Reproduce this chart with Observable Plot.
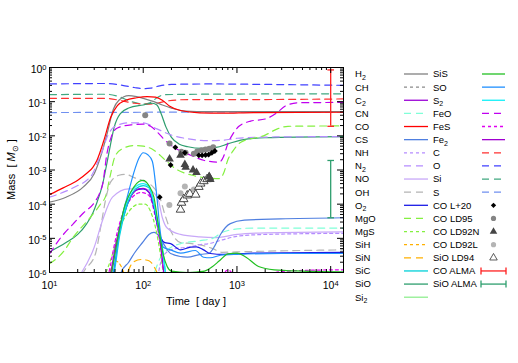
<!DOCTYPE html>
<html><head><meta charset="utf-8">
<script src="https://cdn.jsdelivr.net/npm/d3@7"></script>
<script src="https://cdn.jsdelivr.net/npm/@observablehq/plot@0.6"></script>
<style>
body{margin:0;background:#fff;}
svg{font-family:"Liberation Sans",Arial,Helvetica,sans-serif;}
</style></head><body><div id="chart"></div>
<script>
// ---------- data: [time (day), mass (Msun)] ----------
const xDomain = [10, 13700];
const yDomain = [1e-6, 1];
const xMajor = [10, 100, 1000, 10000];
const yMajor = [1e-6, 1e-5, 1e-4, 1e-3, 1e-2, 1e-1, 1];

const H2 = [[10,1.15e-4],[15,1.6e-4],[23,3.2e-4],[30,7.8e-4],[35,2.4e-3],[41,0.011],[48,0.06],[55,0.11],[70,0.15],[85,0.14],[100,0.125],[130,0.1],[160,0.08],[200,0.065],[280,0.053],[500,0.051],[13700,0.051]];
const CO = [[10,1.9e-4],[14,3e-4],[20,5e-4],[25,8e-4],[29,1.2e-3],[32,1.9e-3],[38,7.3e-3],[45,0.035],[53,0.077],[65,0.11],[85,0.13],[110,0.14],[135,0.135],[160,0.11],[190,0.075],[250,0.055],[400,0.047],[700,0.046],[1500,0.048],[13700,0.049]];
const SiO = [[10,4e-6],[15,7.5e-6],[20,1.3e-5],[25,2.7e-5],[29,5.5e-5],[32,1.1e-4],[37,4e-4],[41,1.6e-3],[45,6e-3],[49,0.018],[57,0.045],[70,0.065],[100,0.08],[125,0.09],[140,0.08],[155,0.045],[175,0.018],[200,0.009],[240,0.0058],[300,0.0048],[420,0.0043],[600,0.0046],[800,0.0058],[1100,0.0075],[2000,0.0088],[13700,0.0095]];
const N2 = [[10,1.6e-4],[15,2.4e-4],[20,3.5e-4],[25,5e-4],[29,8e-4],[32,1.5e-3],[37,4e-3],[41,9e-3],[50,0.019],[70,0.024],[100,0.024],[140,0.016],[200,0.0105],[300,0.0082],[500,0.0072],[700,0.0074],[1000,0.0085],[2000,0.0092],[13700,0.0095]];
const FeO = [[10,3.5e-6],[13,1e-5],[18,2.7e-5],[23,5.5e-5],[30,1.1e-4],[34,2e-4],[37,4e-4],[41,3e-3],[46,0.01],[53,0.017],[75,0.021],[100,0.022],[120,0.019],[141,0.013],[170,0.0075],[211,0.0047],[320,0.0027],[450,0.0019],[650,0.0017],[720,0.0025],[800,0.006],[900,0.011],[1050,0.019],[1400,0.027],[2000,0.031],[2600,0.045],[3300,0.075],[4500,0.093],[13700,0.095]];
const MgO = [[10,1.8e-6],[14,4e-6],[18,1.1e-5],[27,4e-5],[35,1e-4],[40,1.8e-4],[44,6e-4],[50,2.5e-3],[60,4.2e-3],[80,5.2e-3],[100,5e-3],[130,3.8e-3],[170,2e-3],[220,1.1e-3],[350,6.8e-4],[500,5.8e-4],[650,5.6e-4],[720,8e-4],[800,2e-3],[900,3.5e-3],[1100,6.5e-3],[2000,0.0105],[2700,0.016],[3500,0.019],[13700,0.0195]];
const OH = [[20,4e-7],[23,1e-6],[31,3.6e-6],[35,2e-5],[40,1.5e-4],[45,4.5e-4],[55,7e-4],[65,7.5e-4],[80,6e-4],[100,4.8e-4],[130,3e-4],[150,1.6e-4],[170,5e-5],[200,1.5e-5],[250,7.5e-6],[330,7e-6],[450,6e-6],[550,5e-6],[700,3.9e-6],[1000,4e-6],[2000,4.2e-6],[13700,4.6e-6]];
const NO = [[18,5e-7],[22,1e-6],[30,5.5e-6],[37,3.5e-5],[47,1.6e-4],[70,2.8e-4],[100,2.8e-4],[120,2.5e-4],[145,1.3e-4],[160,4e-5],[180,2e-5],[250,1.3e-5],[400,1.1e-5],[600,1.05e-5],[1000,1.3e-5],[2000,1.45e-5],[13700,1.55e-5]];
const SO = [[45,5e-7],[48,1e-6],[55,1.3e-5],[62,7e-5],[67,1.5e-4],[79,8e-4],[90,2.2e-3],[100,3.2e-3],[112,2.8e-3],[125,1.8e-3],[141,1.3e-4],[150,2.1e-5],[164,5.5e-6],[196,4.6e-6],[250,3.7e-6],[360,4.4e-6],[440,2.8e-6],[520,2.7e-6],[667,3.2e-6],[1000,3.4e-6],[3000,3.6e-6],[13700,3.6e-6]];
const O2 = [[44,5e-7],[46,1e-6],[50,4e-6],[57,2.1e-5],[65,7e-5],[73,1.6e-4],[85,2.6e-4],[100,2.8e-4],[115,2.2e-4],[130,8e-5],[141,2.7e-5],[155,1e-5],[170,7.5e-6],[196,7e-6],[250,4.6e-6],[320,5.5e-6],[370,5.6e-6],[440,4.6e-6],[520,3.6e-6],[720,3.4e-6],[1500,3.7e-6],[13700,3.9e-6]];
const CS = [[55,5e-7],[58,1e-6],[70,2e-6],[80,3.6e-6],[100,8e-6],[115,1.3e-5],[130,1.5e-5],[150,1.1e-5],[170,6e-6],[196,3.6e-6],[295,2.8e-6],[410,3.4e-6],[500,3.6e-6],[580,6e-6],[667,1.3e-5],[850,2.7e-5],[1200,3.4e-5],[2900,3.7e-5],[13700,4e-5]];
const C2 = [[42,5e-7],[45,1e-6],[50,5e-6],[57,2.5e-5],[65,8e-5],[75,1.8e-4],[90,2.8e-4],[100,2.9e-4],[115,2.3e-4],[130,9e-5],[145,2e-5],[155,5e-6],[163,1.5e-6],[170,5e-7]];
const S2 = [[45,5e-7],[48,1e-6],[55,1.2e-5],[65,9e-5],[80,3e-4],[100,4e-4],[115,3.3e-4],[135,6.6e-5],[150,1.5e-5],[160,5.5e-6],[173,1e-6],[180,4e-7]];
const SiC = [[46,5e-7],[49,1e-6],[56,1.2e-5],[66,8e-5],[82,2.7e-4],[100,3.5e-4],[115,3e-4],[135,6e-5],[150,1.3e-5],[160,5e-6],[172,1e-6],[180,4e-7]];
const SiS = [[44,5e-7],[46,1e-6],[55,1.5e-5],[62,7e-5],[79,3.1e-4],[90,4.6e-4],[100,5e-4],[115,3.5e-4],[130,1.6e-4],[146,2.1e-5],[160,4.4e-6],[180,1.5e-6],[200,1.1e-6],[300,1e-6],[450,1.1e-6],[550,1.5e-6],[650,2.2e-6],[800,3.5e-6],[1000,3.7e-6],[1250,2.8e-6],[1700,1.5e-6],[2500,1.2e-6],[5000,1.1e-6],[13700,1.05e-6]];
const MgS = [[35,5e-7],[40,1e-6],[50,6e-6],[57,2.1e-5],[70,6e-5],[90,1e-4],[105,1e-4],[120,6e-5],[135,2.1e-5],[152,3.6e-6],[163,1e-6],[170,3e-7]];
const FeS = [[40,5e-7],[43,1e-6],[50,8e-6],[60,5e-5],[75,1.5e-4],[95,2.2e-4],[115,1.8e-4],[135,4e-5],[150,8e-6],[160,2e-6],[166,8e-7],[175,3e-7],[600,3e-7],[700,7e-7],[780,1.15e-6],[850,1.1e-6],[950,6e-7],[1500,5e-7],[2300,9e-7],[2800,1.05e-6],[5000,1.15e-6],[13700,1.2e-6]];
const NH = [[140,5e-7],[150,1.5e-6],[170,3.5e-6],[220,5e-6],[300,5.5e-6],[400,6.5e-6],[500,7e-6],[700,9e-6],[1000,1.15e-5],[2000,1.3e-5],[13700,1.4e-5]];
const CN = [[120,5e-7],[135,1.2e-6],[150,2.5e-6],[180,4.5e-6],[250,7e-6],[400,8.5e-6],[550,1e-5],[700,1.5e-5],[900,1.8e-5],[1500,2e-5],[13700,2e-5]];
const SiH = [[40,5e-7],[44,1e-6],[50,2.2e-6],[56,1.8e-6],[62,1e-6],[68,5e-7]];
const SiN = [[62,5e-7],[68,1e-6],[78,2e-6],[95,2.4e-6],[115,2.2e-6],[130,1.5e-6],[140,1e-6],[150,5e-7]];
const Cat = [[10,0.125],[40,0.125],[60,0.105],[80,0.09],[110,0.085],[140,0.09],[180,0.105],[300,0.115],[1000,0.115],[13700,0.12]];
const Oat = [[10,0.33],[40,0.34],[60,0.3],[80,0.26],[100,0.24],[120,0.25],[150,0.29],[200,0.32],[500,0.33],[2000,0.32],[13700,0.30]];
const Siat = [[10,0.16],[40,0.165],[55,0.14],[75,0.1],[100,0.085],[120,0.095],[140,0.13],[170,0.16],[400,0.165],[13700,0.17]];
const Sat = [[10,0.048],[100,0.049],[1000,0.05],[13700,0.05]];

// observations
const COL20 = [[150,1.6e-4],[196,1.4e-3],[220,4.6e-3],[278,3.2e-3],[392,2.7e-3],[425,2.7e-3],[462,2.75e-3],[498,2.8e-3],[540,3.2e-3],[581,3.6e-3]];
const COLD95 = [[105,0.04],[191,6e-3],[255,3.4e-3],[283,3.2e-3],[347,3.0e-3],[377,3.5e-3],[419,3.8e-3],[462,4e-3],[506,4.2e-3],[558,4.6e-3]];
const COLD92N = [[191,2.1e-3],[250,2.7e-3],[278,1.45e-3],[284,1.2e-3],[340,1.0e-3],[370,8.5e-4],[506,6.5e-4],[520,5.3e-4]];
const COLD92L = [[190,9.4e-5],[250,2.1e-4],[278,3.3e-4],[347,2.7e-4]];
const SiOLD94 = [[250,6.9e-5],[256,1.1e-4],[270,1.4e-4],[295,1.8e-4],[314,2.0e-4],[363,1.9e-4],[392,3.2e-4],[410,4e-4],[443,4.7e-4],[480,5.4e-4],[506,6e-4]];
const COALMA = [[10000, 0.019, 0.85]];
const SiOALMA = [[10000, 4e-5, 1.9e-3]];

// legend labels
const legendCol1 = ["H_2","CH","C_2","CN","CO","CS","NH","N_2","NO","OH","O_2","MgO","MgS","SiH","SiN","SiC","SiO","Si_2"];
const legendCol2 = ["SiS","SO","S_2","FeO","FeS","Fe_2","C","O","Si","S","CO L+20","CO LD95","CO LD92N","CO LD92L","SiO LD94","CO ALMA","SiO ALMA"];

// ---------- styles ----------
const DASH = "7,5", DOT = "3,3";
const style = {
  "H_2":["#808080",null], "CH":["#8a8a8a",DOT], "C_2":["#9a00d6",null], "CN":["#80ffd8",DASH],
  "CO":["#ff0000",null], "CS":["#4f7fe0",null], "NH":["#b58cff",DOT], "N_2":["#b58cff",DASH],
  "NO":["#c8a8f8",null], "OH":["#b4b4b4",DASH], "O_2":["#1a1ae6",null], "MgO":["#84f040",DASH],
  "MgS":["#84f040",DOT], "SiH":["#ffb000",DOT], "SiN":["#ffb000",DASH], "SiC":["#00d0d8",null],
  "SiO":["#2e9e6e",null], "Si_2":["#90ee90",null],
  "SiS":["#22c022",null], "SO":["#2090ff",null], "S_2":["#10f0f8",null], "FeO":["#c000f0",DASH],
  "FeS":["#e000f0",DOT], "Fe_2":["#a000d0",null], "C":["#ff3030",DASH], "O":["#4040ff",DASH],
  "Si":["#40a880",DASH], "S":["#7090f0",DASH]
};
const curveData = [["Si","Siat",Siat],["C","Cat",Cat],["O","Oat",Oat],["S","Sat",Sat],
  ["H_2",0,H2],["SiO",0,SiO],["N_2",0,N2],["FeO",0,FeO],["MgO",0,MgO],["CO",0,CO],
  ["OH",0,OH],["NO",0,NO],["NH",0,NH],["CN",0,CN],["CS",0,CS],["SiH",0,SiH],["SiN",0,SiN],
  ["MgS",0,MgS],["FeS",0,FeS],["O_2",0,O2],["C_2",0,C2],["SiC",0,SiC],["S_2",0,S2],["SO",0,SO],["SiS",0,SiS]];

const toRows = arr => arr.map(([t,m]) => ({t, m}));
const lines = curveData.map(([key,,arr]) => Plot.line(toRows(arr), {
  x:"t", y:"m", stroke: style[key][0], strokeWidth: 1.2,
  strokeDasharray: style[key][1] || undefined, curve: "monotone-x", clip: true
}));

const capSymbol = { draw(ctx, size) { const r = Math.sqrt(size/Math.PI); ctx.moveTo(-r,0); ctx.lineTo(r,0); } };
function errorBar(arr, color) {
  const rows = arr.map(([t,lo,hi]) => ({t, lo, hi}));
  const caps = rows.flatMap(d => [{t:d.t, m:d.lo}, {t:d.t, m:d.hi}]);
  return [
    Plot.ruleX(rows, {x:"t", y1:"lo", y2:"hi", stroke: color, strokeWidth: 1.3}),
    Plot.dot(caps, {x:"t", y:"m", symbol: capSymbol, r: 3.3, stroke: color, strokeWidth: 1.3})
  ];
}

// minor ticks
const xMinor = [], yMinor = [];
for (const d of [10,100,1000]) for (let k=2;k<=9;k++) xMinor.push(k*d);
for (const d of [1e-6,1e-5,1e-4,1e-3,1e-2,1e-1]) for (let k=2;k<=9;k++) yMinor.push(k*d);

const W = 518, H = 363, mL = 49, mR = 175, mT = 67, mB = 91;
const iW = W - mL - mR, iH = H - mT - mB;
const expFmt = d => "10^" + Math.round(Math.log10(d));

const plot = Plot.plot({
  width: W, height: H, marginLeft: mL, marginRight: mR, marginTop: mT, marginBottom: mB,
  style: {fontFamily: '"Liberation Sans", Arial, Helvetica, sans-serif', fontSize: "10.5px", background: "#fff", color: "#000"},
  x: {type: "log", domain: xDomain},
  y: {type: "log", domain: yDomain},
  marks: [
    ...lines,
    ...errorBar(COALMA, "#ff2020"),
    ...errorBar(SiOALMA, "#2e9e6e"),
    Plot.dot(toRows(COLD92L), {x:"t", y:"m", r:3, fill:"#b4b4b4", clip:true}),
    Plot.dot(toRows(SiOLD94), {x:"t", y:"m", r:3.2, symbol:"triangle", fill:"white", stroke:"#333", strokeWidth:0.9, clip:true}),
    Plot.dot(toRows(COLD95), {x:"t", y:"m", r:3, fill:"#858585", clip:true}),
    Plot.dot(toRows(COLD92N), {x:"t", y:"m", r:3.2, symbol:"triangle", fill:"#454545", clip:true}),
    Plot.dot(toRows(COL20), {x:"t", y:"m", r:2.6, symbol:"diamond2", fill:"#000", clip:true}),
    // inward ticks on all four sides
    Plot.tickX(xMajor, {x: d=>d, insetTop: iH-6, stroke:"#000"}),
    Plot.tickX(xMajor, {x: d=>d, insetBottom: iH-6, stroke:"#000"}),
    Plot.tickX(xMinor, {x: d=>d, insetTop: iH-3, stroke:"#000"}),
    Plot.tickX(xMinor, {x: d=>d, insetBottom: iH-3, stroke:"#000"}),
    Plot.tickY(yMajor, {y: d=>d, insetRight: iW-6, stroke:"#000"}),
    Plot.tickY(yMajor, {y: d=>d, insetLeft: iW-6, stroke:"#000"}),
    Plot.tickY(yMinor, {y: d=>d, insetRight: iW-3, stroke:"#000"}),
    Plot.tickY(yMinor, {y: d=>d, insetLeft: iW-3, stroke:"#000"}),
    Plot.axisX(xMajor, {tickSize: 0, tickPadding: 9, tickFormat: expFmt, label: null, fontSize: 10.5}),
    Plot.axisY(yMajor, {tickSize: 0, tickPadding: 3, tickFormat: expFmt, label: null, fontSize: 10.5, dy: 2}),
    Plot.frame({stroke: "#000", strokeWidth: 1})
  ]
});
document.getElementById("chart").appendChild(plot);

// superscripts on tick labels
plot.querySelectorAll('g[aria-label="x-axis tick label"] text, g[aria-label="y-axis tick label"] text').forEach(t => {
  const [b, e] = t.textContent.split("^");
  t.textContent = "";
  const s1 = document.createElementNS("http://www.w3.org/2000/svg","tspan"); s1.textContent = b; t.appendChild(s1);
  const s2 = document.createElementNS("http://www.w3.org/2000/svg","tspan"); s2.textContent = e;
  s2.setAttribute("dy","-0.45em"); s2.setAttribute("font-size","7.5px"); t.appendChild(s2);
});

const svg = d3.select(plot);
// axis titles
svg.append("text").attr("x", mL + iW/2).attr("y", 305).attr("text-anchor","middle")
  .attr("font-size", 11).attr("fill","#000").style("white-space","pre").text("Time  [ day ]");
const yt = svg.append("text").attr("transform", `translate(15,${mT + iH/2}) rotate(-90)`)
  .attr("text-anchor","middle").attr("font-size", 11).attr("fill","#000").style("white-space","pre");
yt.append("tspan").text("Mass  [ ");
yt.append("tspan").attr("font-style","italic").text("M");
yt.append("tspan").attr("dy", 2.5).attr("font-size", 8).text("⊙");
yt.append("tspan").attr("dy", -2.5).text(" ]");

// legend
const lg = svg.append("g").attr("font-size", 9.5).attr("fill", "#000").attr("text-anchor", "start");
const rowY = i => 74 + i * 13.13;
function label(x, y, s) {
  const t = lg.append("text").attr("x", x).attr("y", y + 3.4).attr("text-anchor", "start");
  const [a, sub] = s.split("_");
  t.append("tspan").text(a);
  if (sub) t.append("tspan").attr("dy", 2.5).attr("font-size", 7).text(sub);
}
function sample(x1, x2, y, key) {
  const cx = (x1 + x2) / 2;
  if (style[key]) {
    lg.append("line").attr("x1", x1).attr("x2", x2).attr("y1", y).attr("y2", y)
      .attr("stroke", style[key][0]).attr("stroke-width", 1.3)
      .attr("stroke-dasharray", style[key][1]);
    return;
  }
  const sym = (type, r) => d3.symbol(type, Math.PI * r * r)();
  const g = lg.append("g").attr("transform", `translate(${cx},${y})`);
  if (key === "CO L+20") g.append("path").attr("d", sym(d3.symbolDiamond2, 2.4)).attr("fill", "#000");
  else if (key === "CO LD95") g.append("path").attr("d", sym(d3.symbolCircle, 2.6)).attr("fill", "#858585");
  else if (key === "CO LD92N") g.append("path").attr("d", sym(d3.symbolTriangle, 2.8)).attr("fill", "#454545");
  else if (key === "CO LD92L") g.append("path").attr("d", sym(d3.symbolCircle, 2.6)).attr("fill", "#b4b4b4");
  else if (key === "SiO LD94") g.append("path").attr("d", sym(d3.symbolTriangle, 2.8)).attr("fill", "#fff").attr("stroke", "#333").attr("stroke-width", 0.8);
  else {
    const c = key === "CO ALMA" ? "#ff2020" : "#2e9e6e";
    const e = lg.append("g").attr("stroke", c).attr("stroke-width", 1.3);
    e.append("line").attr("x1", x1 - 1).attr("x2", x2 + 1).attr("y1", y).attr("y2", y);
    e.append("line").attr("x1", x1 - 1).attr("x2", x1 - 1).attr("y1", y - 3.5).attr("y2", y + 3.5);
    e.append("line").attr("x1", x2 + 1).attr("x2", x2 + 1).attr("y1", y - 3.5).attr("y2", y + 3.5);
  }
}
legendCol1.forEach((k, i) => { label(355, rowY(i), k); sample(404, 428, rowY(i), k); });
legendCol2.forEach((k, i) => { label(433, rowY(i), k); sample(482, 505, rowY(i), k); });
</script></body></html>
